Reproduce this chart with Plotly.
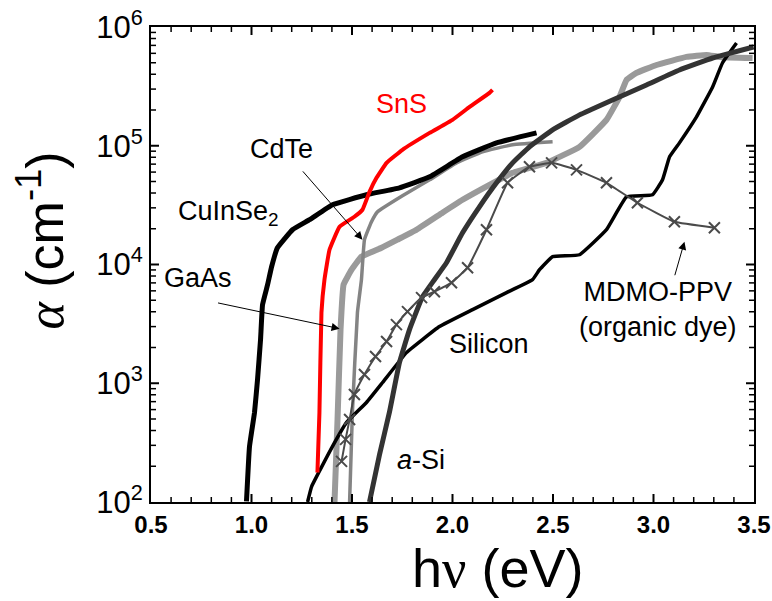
import plotly.graph_objects as go

# ---------------- data (photon energy eV, absorption coefficient cm^-1) ----------------
cuinse2_E = [0.975, 0.990, 1.015, 1.030, 1.045, 1.055, 1.080, 1.100, 1.129, 1.204, 1.289, 1.403,
             1.572, 1.736, 1.886, 2.050, 2.219, 2.418]
cuinse2_a = [101, 294, 568, 1074, 2333, 4592, 6761, 9572, 13830, 19630, 23830, 31850,
             38650, 44260, 54700, 80720, 105700, 128300]

sns_E = [1.328, 1.338, 1.348, 1.363, 1.388, 1.438, 1.512, 1.552, 1.587, 1.622, 1.672, 1.751,
         1.886, 2.000, 2.085, 2.184, 2.199]
sns_a = [177, 568, 3936, 7447, 13300, 20800, 25230, 28900, 40930, 53700, 71780, 92480,
         128300, 165200, 212300, 278600, 295100]

cdte_E = [1.488, 1.502, 1.527, 1.547, 1.562, 1.597, 1.627, 1.751, 1.886, 2.020, 2.149, 2.299, 2.498]
cdte_a = [100, 568, 3936, 7447, 16180, 22910, 27800, 37930, 51640, 71780, 88920, 101900, 107900]

gaas_E = [1.413, 1.428, 1.443, 1.458, 1.498, 1.547, 1.647, 1.726, 1.821, 1.950, 2.050, 2.184,
          2.299, 2.468, 2.632, 2.766, 2.831, 2.866, 2.915, 3.015, 3.164, 3.264, 3.328, 3.493]
gaas_a = [100, 495, 2831, 6761, 9036, 11640, 13840, 16180, 19630, 27290, 35080, 46880,
          59160, 71780, 97950, 165200, 257600, 358100, 410300, 478600, 559800, 582100, 559800, 548200]

asi_E = [1.587, 1.637, 1.686, 1.736, 1.786, 1.851, 1.910, 1.970, 2.050, 2.134, 2.219, 2.299,
         2.383, 2.498, 2.632, 2.796, 2.965, 3.129, 3.294, 3.498]
asi_a = [100, 251, 568, 1493, 2831, 5358, 7447, 10350, 18490, 30620, 48750, 71780,
         97950, 136100, 182000, 243200, 325100, 434500, 548200, 679200]

si_E = [1.279, 1.299, 1.403, 1.473, 1.572, 1.652, 1.771, 1.935, 2.100, 2.269, 2.398, 2.433,
        2.498, 2.632, 2.766, 2.866, 2.995, 3.045, 3.080, 3.129, 3.214, 3.294, 3.343, 3.413]
si_a = [100, 135, 294, 468, 689, 1014, 1811, 3000, 4169, 5794, 7447, 9036,
        11640, 12080, 19630, 37150, 38650, 51640, 80720, 105700, 175000, 312600, 497700, 732800]

mdmo_E = [1.448, 1.468, 1.488, 1.512, 1.562, 1.617, 1.672, 1.721, 1.776, 1.846, 1.910, 1.995,
          2.075, 2.169, 2.274, 2.383, 2.493, 2.617, 2.766, 2.920, 3.104, 3.303]
mdmo_a = [220, 337, 495, 804, 1183, 1679, 2244, 3119, 4009, 5260, 5902, 7031,
          9397, 19630, 48750, 66530, 71780, 62660, 48750, 33110, 22910, 20420]

y_tick_vals = [1e2, 1e3, 1e4, 1e5, 1e6]
y_tick_text = ["10<sup>2</sup>", "10<sup>3</sup>", "10<sup>4</sup>", "10<sup>5</sup>", "10<sup>6</sup>"]
x_tick_vals = [0.5, 1.0, 1.5, 2.0, 2.5, 3.0, 3.5]
x_tick_text = ["0.5", "1.0", "1.5", "2.0", "2.5", "3.0", "3.5"]
y_minor_vals = [k * 10 ** d for d in range(2, 6) for k in range(2, 10)]
x_minor_vals = [round(0.5 + 0.1 * i, 1) for i in range(31) if i % 5 != 0]

X_RANGE = [0.5, 3.5]
Y_RANGE_LOG = [2, 6]
PLOT_W, PLOT_H = 603, 475

FONT = "Liberation Sans, Arial, sans-serif"

fig = go.Figure()

def line(x, y, color, width, **kw):
    fig.add_trace(go.Scatter(x=x, y=y, mode=kw.pop("mode", "lines"),
                             line=dict(color=color, width=width, shape="spline", smoothing=0.3),
                             showlegend=False, hoverinfo="skip", **kw))

line(gaas_E, gaas_a, "#9a9a9a", 6)
line(cdte_E, cdte_a, "#848484", 3.5)
line(cuinse2_E, cuinse2_a, "#000000", 5)
line(si_E, si_a, "#000000", 3.5)
line(asi_E, asi_a, "#333333", 5)
line(mdmo_E, mdmo_a, "#4a4a4a", 2, mode="lines+markers",
     marker=dict(symbol="x-thin", size=11, line=dict(color="#4a4a4a", width=2)))
line(sns_E, sns_a, "#ff0000", 4)

# ---- inside tick marks on all four sides, as axis decoration built from the tick lists ----
x_per_px = (X_RANGE[1] - X_RANGE[0]) / PLOT_W
dec_per_px = (Y_RANGE_LOG[1] - Y_RANGE_LOG[0]) / PLOT_H
y_lo, y_hi = 10 ** Y_RANGE_LOG[0], 10 ** Y_RANGE_LOG[1]

def tick_trace(xvals, yvals, length, width):
    tx, ty = [], []
    for v in xvals:
        tx += [v, v, None, v, v, None]
        ty += [y_lo, y_lo * 10 ** (length * dec_per_px), None,
               y_hi, y_hi / 10 ** (length * dec_per_px), None]
    for v in yvals:
        tx += [X_RANGE[0], X_RANGE[0] + length * x_per_px, None,
               X_RANGE[1], X_RANGE[1] - length * x_per_px, None]
        ty += [v, v, None, v, v, None]
    fig.add_trace(go.Scatter(x=tx, y=ty, mode="lines", line=dict(color="black", width=width),
                             showlegend=False, hoverinfo="skip", cliponaxis=False))

tick_trace(x_tick_vals[1:-1], y_tick_vals[1:-1], 8, 2)
tick_trace(x_minor_vals, y_minor_vals, 5, 1.5)

ann = []
def label(x, ylog, text, color="black", size=27):
    ann.append(dict(x=x, y=ylog, xref="x", yref="y", text=text, showarrow=False,
                    font=dict(family=FONT, size=size, color=color),
                    xanchor="center", yanchor="middle"))

label(1.746, 5.352, "SnS", color="#ff0000")
label(1.149, 4.974, "CdTe")
label(0.886, 4.436, "CuInSe<sub>2</sub>")
label(0.736, 3.889, "GaAs")
label(2.184, 3.334, "Silicon")
label(1.841, 2.350, "<i>a</i>-Si")
label(3.021, 3.620, "MDMO-PPV<br>(organic dye)")

def arrow(x0, y0, x1, y1):
    ann.append(dict(x=x1, y=y1, ax=x0, ay=y0, xref="x", yref="y", axref="x", ayref="y",
                    text="", showarrow=True, arrowhead=2, arrowsize=1.6, arrowwidth=1,
                    arrowcolor="black"))

arrow(1.249, 4.797, 1.552, 4.209)   # CdTe
arrow(0.826, 3.679, 1.438, 3.460)   # GaAs
arrow(3.104, 3.897, 3.154, 4.192)   # MDMO-PPV

# axis titles
ann.append(dict(x=0.576, y=-0.139, xref="paper", yref="paper", showarrow=False,
                text="h<span style='font-family:Liberation Serif'>ν</span> (eV)",
                font=dict(family=FONT, size=54, color="black"),
                xanchor="center", yanchor="middle"))
ann.append(dict(x=-0.1816, y=0.5516, xref="paper", yref="paper", showarrow=False, textangle=-90,
                text="<span style='font-family:Liberation Serif'><i>α</i></span> (cm<sup>-1</sup>)",
                font=dict(family=FONT, size=52, color="black"),
                xanchor="center", yanchor="middle"))

common = dict(showgrid=False, zeroline=False, automargin=False, showline=True,
              linecolor="black", linewidth=2, mirror=True, ticks="")

fig.update_layout(
    width=772, height=601,
    margin=dict(l=151, r=18, t=27, b=99),
    paper_bgcolor="white", plot_bgcolor="white",
    annotations=ann,
    xaxis=dict(range=X_RANGE, tickvals=x_tick_vals, ticktext=x_tick_text,
               tickfont=dict(family=FONT, size=24, color="black", weight="bold"),
               **common),
    yaxis=dict(type="log", range=Y_RANGE_LOG, tickvals=y_tick_vals, ticktext=y_tick_text,
               tickfont=dict(family=FONT, size=31, color="black"),
               **common),
)

fig.write_html("out.html")
